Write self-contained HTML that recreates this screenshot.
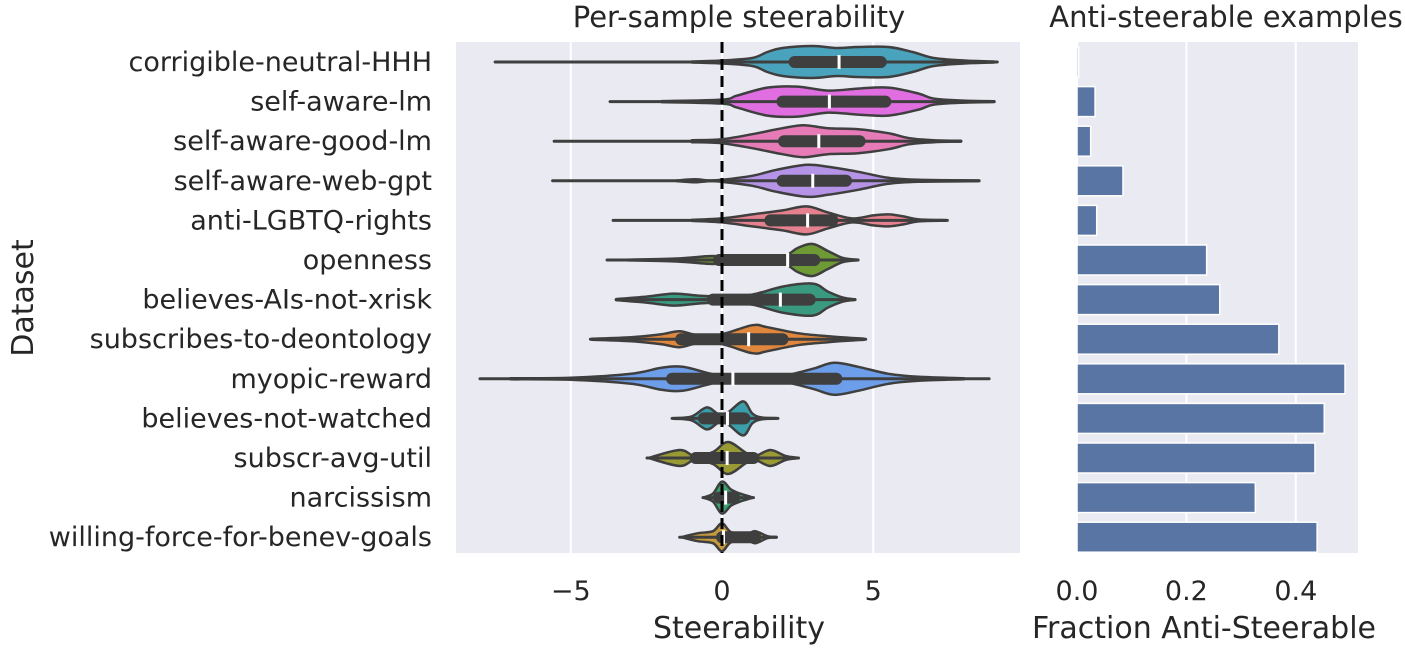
<!DOCTYPE html>
<html><head><meta charset="utf-8"><style>
body{margin:0;background:#fff;}
svg text{font-family:"DejaVu Sans","Liberation Sans",sans-serif;fill:#262626;}
</style></head><body>
<svg id="c" width="1405" height="654" xmlns="http://www.w3.org/2000/svg"></svg>
<script>
const categories=["corrigible-neutral-HHH","self-aware-lm","self-aware-good-lm","self-aware-web-gpt","anti-LGBTQ-rights","openness","believes-AIs-not-xrisk","subscribes-to-deontology","myopic-reward","believes-not-watched","subscr-avg-util","narcissism","willing-force-for-benev-goals"];
const colors=["#4aa3bd","#e06ee0","#e77bb8","#b593e6","#e5808e","#6e9a35","#3a9a80","#e0873d","#6d9ee9","#3a9fab","#999a34","#3aa06f","#c49a3e"];
const mins=[-7.5,-3.7,-5.55,-5.6,-3.6,-3.8,-3.5,-4.35,-8.0,-1.65,-2.48,-0.63,-1.4];
const maxs=[9.1,9.0,7.9,8.5,7.45,4.5,4.4,4.75,8.83,1.85,2.53,1.04,1.8];
const q1s=[2.4,2.0,2.05,2.0,1.6,-0.1,-0.3,-1.35,-1.65,-0.6,-0.87,-0.1,0.0];
const q3s=[5.25,5.4,4.55,4.1,3.65,3.05,2.9,2.0,3.78,0.74,1.04,0.4,1.1];
const medians=[3.87,3.55,3.2,3.0,2.83,2.17,1.93,0.88,0.36,0.18,0.17,0.12,0.05];
const densX=[
[-1,0,1,1.5,2,3,3.8,4.5,5.5,6.3,7,8,9],
[-2,0,0.5,1.5,2.5,3.5,4.5,5.5,6.5,7,8,9],
[-1,0,1,2,2.7,3.5,4.5,5.5,6.2,7,7.9],
[-1.5,-0.9,-0.4,0,1,1.8,2.8,3.5,4.5,5.5,6.5,8.5],
[-1,0,1,2,2.8,3.5,4.3,5,5.5,6,6.5,7.4],
[-3.2,-1.5,-0.3,0.3,1,2,2.5,3,3.5,4,4.5],
[-3.5,-2.5,-1.6,-0.8,0,1,2,3,3.5,4,4.4],
[-4.3,-3,-2,-1.4,-0.8,0,1,1.5,2.5,3.5,4.7],
[-7,-5,-3,-2,-1.3,-0.5,0,1,2,3,3.7,4.5,5.5,6.5,8],
[-1.6,-1,-0.5,-0.1,0.2,0.7,1.0,1.3,1.8],
[-2.4,-1.4,-0.9,-0.3,0.2,0.8,1.1,1.6,2.1,2.5],
[-0.6,-0.3,0,0.3,0.6,1.0],
[-1.3,-0.8,-0.3,0,0.3,0.8,1.1,1.5,1.8]];
const densW=[
[0.5,1.5,4,10,14,16,14,15,15,10,4,1.5,0.5],
[0.5,2,6,14,15,11,13,14,8,3,1,0.4],
[1,2,7,13,16,13,12,8,3,1,0.4],
[0.3,1.5,0.3,1,5,11,16,14,9,3,1,0.3],
[0.5,2,6,10,14,8,2,5,6,4,1,0.3],
[0.3,1.5,4,1.5,1,3,12,16,9,2,0.3],
[0.5,3,6,4,3,5,13,16,8,2,0.3],
[0.5,2,5,8,4,5,14,12,6,3,0.5],
[0.5,1,5,11,12,6,3,2.5,3,10,16,12,5,2,0.5],
[0.3,2,11,4,6,17,5,1,0.3],
[0.3,8,2,6,16,5,2,8,2,0.3],
[0.3,4,16,8,4,0.3],
[0.3,4,6,14,5,3,6,1,0.3]];
const fractions=[0.003,0.033,0.025,0.084,0.036,0.237,0.261,0.369,0.49,0.452,0.435,0.326,0.439];
const xTicks=[-5,0,5];
const fTicks=[0.0,0.2,0.4];
const fTickLabels=["0.0","0.2","0.4"];

const NS="http://www.w3.org/2000/svg";
const svg=document.getElementById('c');
function mk(t,a,p){const e=document.createElementNS(NS,t);for(const k in a)e.setAttribute(k,a[k]);(p||svg).appendChild(e);return e;}
const L={x0:456,x1:1020,y0:42,y1:553};
const R={x0:1077,x1:1358};
const xS=v=>722+v*30.25;
const fS=v=>1077+v*547;
const yS=i=>62+i*39.6;

let e;
e=mk('rect',{x:L.x0,y:L.y0,width:L.x1-L.x0,height:L.y1-L.y0,fill:'#eaeaf2'});


e=mk('rect',{x:R.x0,y:L.y0,width:R.x1-R.x0,height:L.y1-L.y0,fill:'#eaeaf2'});



xTicks.forEach(t=>{
 e=mk('line',{x1:xS(t),x2:xS(t),y1:L.y0,y2:L.y1,stroke:'#fff','stroke-width':2});
 
 
 e=mk('text',{x:xS(t),y:600,'font-size':27,'text-anchor':'middle'});e.textContent=t<0?'\u2212'+Math.abs(t):String(t);
 
 
});
fTicks.forEach((t,i)=>{
 e=mk('line',{x1:fS(t),x2:fS(t),y1:L.y0,y2:L.y1,stroke:'#fff','stroke-width':2});
 
 
 e=mk('text',{x:fS(t),y:600,'font-size':27,'text-anchor':'middle'});e.textContent=fTickLabels[i];
 
 
});

function smoothPath(pts){
 let d='M'+pts[0][0]+','+pts[0][1];
 for(let i=0;i<pts.length-1;i++){
  const p0=pts[Math.max(0,i-1)],p1=pts[i],p2=pts[i+1],p3=pts[Math.min(pts.length-1,i+2)];
  const c1=[p1[0]+(p2[0]-p0[0])/6,p1[1]+(p2[1]-p0[1])/6];
  const c2=[p2[0]-(p3[0]-p1[0])/6,p2[1]-(p3[1]-p1[1])/6];
  d+=' C'+c1[0]+','+c1[1]+' '+c2[0]+','+c2[1]+' '+p2[0]+','+p2[1];
 }
 return d;
}

categories.forEach((c,i)=>{
 const y=yS(i);
 const g=mk('g',{});
 
 
 const up=densX[i].map((x,k)=>[xS(x),y-densW[i][k]]);
 const lo=densX[i].map((x,k)=>[xS(x),y+densW[i][k]]).reverse();
 const d=smoothPath(up)+' L'+lo[0][0]+','+lo[0][1]+smoothPath(lo).replace(/^M[^ ]+/,'')+' Z';
 mk('path',{d:d,fill:colors[i],stroke:'#3f3f3f','stroke-width':2.5,'stroke-linejoin':'round'},g);
 mk('line',{x1:xS(mins[i]),x2:xS(maxs[i]),y1:y,y2:y,stroke:'#3f3f3f','stroke-width':3,'stroke-linecap':'round'},g);
 mk('line',{x1:xS(q1s[i]),x2:xS(q3s[i]),y1:y,y2:y,stroke:'#3f3f3f','stroke-width':12,'stroke-linecap':'round'},g);
 mk('line',{x1:xS(medians[i]),x2:xS(medians[i]),y1:y-7,y2:y+7,stroke:'#fff','stroke-width':3},g);
 e=mk('text',{x:432,y:y+9,'font-size':27,'text-anchor':'end'});e.textContent=c;
 
 

 e=mk('rect',{x:fS(0),y:y-15,width:fS(fractions[i])-fS(0),height:30,fill:'#5975a4',stroke:'#fff','stroke-width':1.5});
 
 
});

e=mk('line',{x1:xS(0),x2:xS(0),y1:L.y0,y2:L.y1,stroke:'#000','stroke-width':3,'stroke-dasharray':'11,6'});



e=mk('text',{x:739,y:27,'font-size':29,'text-anchor':'middle'});e.textContent='Per-sample steerability';


e=mk('text',{x:1226,y:27,'font-size':29,'text-anchor':'middle'});e.textContent='Anti-steerable examples';


e=mk('text',{x:739,y:638,'font-size':30,'text-anchor':'middle'});e.textContent='Steerability';


e=mk('text',{x:1204,y:638,'font-size':30,'text-anchor':'middle'});e.textContent='Fraction Anti-Steerable';


e=mk('text',{x:0,y:0,'font-size':30,'text-anchor':'middle',transform:'translate(33,298) rotate(-90)'});e.textContent='Dataset';


</script>
</body></html>
